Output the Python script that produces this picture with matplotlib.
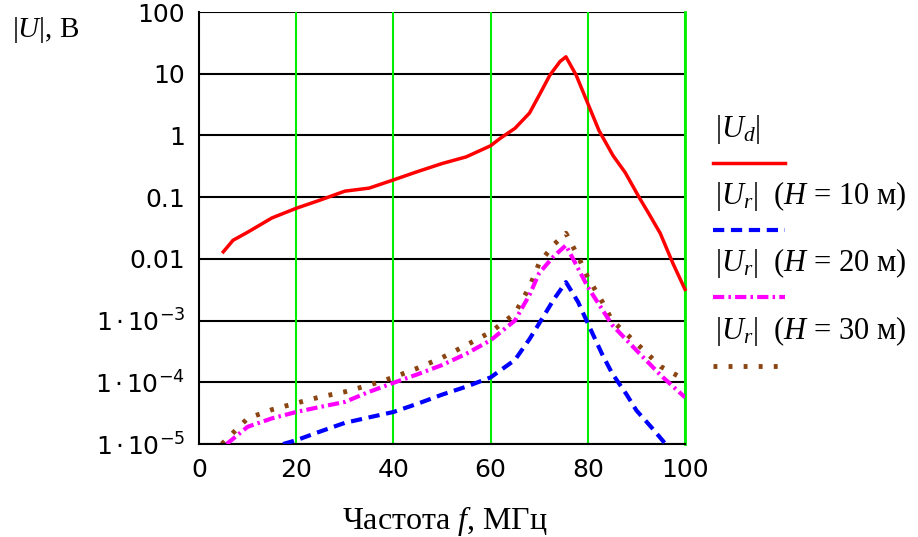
import numpy as np
import matplotlib
matplotlib.use('Agg')
from matplotlib import pyplot as plt
from matplotlib.lines import Line2D
from matplotlib.ticker import FixedLocator, FuncFormatter

plt.rcParams['mathtext.fontset'] = 'custom'
plt.rcParams['mathtext.rm'] = 'Liberation Serif'
plt.rcParams['mathtext.it'] = 'Liberation Serif:italic'
plt.rcParams['mathtext.sf'] = 'DejaVu Sans'

# |Ud|
x_d = [5, 7, 10, 15, 20, 25, 30, 35, 40, 45, 50, 55, 60, 62, 65, 68, 70.2, 72.2, 74.3, 75.5,
       77.6, 80, 82.3, 85.2, 87.7, 90.7, 92.5, 94.9, 97.5, 100]
u_d = [0.013, 0.02, 0.027, 0.046, 0.066, 0.09, 0.125, 0.14, 0.19, 0.26, 0.35, 0.45, 0.68,
       0.9, 1.3, 2.3, 4.8, 9.5, 15.8, 18.8, 9.5, 3.3, 1.2, 0.47, 0.25, 0.095, 0.055, 0.026,
       0.0085, 0.0032]

# |Ur| H = 10 m
x_10 = [17.3, 20, 25, 30, 35, 40, 45, 50, 55, 60, 65, 68, 70, 73, 75.5, 78, 80, 83, 85,
        88, 90, 93, 96]
u_10 = [1e-5, 1.15e-5, 1.6e-5, 2.2e-5, 2.7e-5, 3.3e-5, 4.5e-5, 6.3e-5, 8.5e-5, 1.2e-4,
        2.3e-4, 5e-4, 9e-4, 2.2e-3, 4.2e-3, 2e-3, 9e-4, 2.8e-4, 1.4e-4, 6.3e-5, 3.5e-5,
        1.9e-5, 1e-5]

# |Ur| H = 20 m
x_20 = [5.7, 10, 15, 20, 25, 30, 35, 40, 45, 50, 55, 60, 65, 68, 70, 73, 75.5, 78, 80,
        83, 85, 90, 95, 100]
u_20 = [1e-5, 1.9e-5, 2.6e-5, 3.3e-5, 4e-5, 4.8e-5, 7e-5, 9.8e-5, 1.35e-4, 1.9e-4,
        2.9e-4, 4.8e-4, 1e-3, 2.6e-3, 5.9e-3, 1.1e-2, 1.66e-2, 7e-3, 3.5e-3, 1.5e-3,
        8.5e-4, 3.3e-4, 1.3e-4, 5.7e-5]

# |Ur| H = 30 m
x_30 = [4.7, 10, 15, 20, 25, 30, 35, 40, 45, 50, 55, 60, 65, 68, 70, 73, 75.5, 78, 80,
        83, 85, 90, 95, 100]
u_30 = [1e-5, 2.6e-5, 3.6e-5, 4.6e-5, 5.8e-5, 7e-5, 9e-5, 1.2e-4, 1.7e-4, 2.5e-4,
        4e-4, 6.5e-4, 1.3e-3, 3.5e-3, 8.5e-3, 1.7e-2, 2.6e-2, 1.1e-2, 5e-3, 2e-3, 1e-3,
        4.3e-4, 1.8e-4, 1.1e-4]

x_ticks = [0, 20, 40, 60, 80, 100]
y_ticks = [1e-5, 1e-4, 1e-3, 1e-2, 0.1, 1, 10, 100]

legend_labels = [r'|$U_d$|',
                 r'|$U_r$|  ($H$ = 10 м)',
                 r'|$U_r$|  ($H$ = 20 м)',
                 r'|$U_r$|  ($H$ = 30 м)']

tick_font = ['DejaVu Sans Condensed', 'DejaVu Sans']
serif = ['Liberation Serif', 'DejaVu Serif']


def ylab(v, pos):
    e = int(round(np.log10(v)))
    if e >= -2:
        return '%g' % v
    return r'$\mathsf{1\cdot10^{%d}}\quad$' % e


fig = plt.figure(figsize=(9.18, 5.37), dpi=100)
ax = fig.add_axes([199/918, 1-444/537, 486/918, 432/537])
ax.set_yscale('log')
ax.set_xlim(0, 100)
ax.set_ylim(1e-5, 100)

for v in y_ticks:
    ax.axhline(v, color='black', lw=1.5, zorder=1)
for v in x_ticks[1:]:
    ax.axvline(v, color='#00ee00', lw=1.5, zorder=1)

ax.plot(x_d, u_d, color='#ff0000', lw=2.5, zorder=3, clip_on=False)
ax.plot(x_10, u_10, color='#0000ff', lw=3, ls=(0, (2.7, 1.6)), zorder=3)
ax.plot(x_20, u_20, color='#ff00ff', lw=3, ls=(0, (2.7, 1.0, 0.6, 1.0)), zorder=3)
ax.plot(x_30, u_30, color='#8b4513', lw=3.5, ls=(0, (0.8, 2.3)), zorder=2)

ax.xaxis.set_major_locator(FixedLocator(x_ticks))
ax.yaxis.set_major_locator(FixedLocator(y_ticks))
ax.yaxis.set_minor_locator(FixedLocator([]))
ax.yaxis.set_major_formatter(FuncFormatter(ylab))
ax.tick_params(length=0, labelsize=18, pad=10)
ax.tick_params(axis='x', pad=10)
for lbl in ax.get_xticklabels() + ax.get_yticklabels():
    lbl.set_family(tick_font)
for s in ['top', 'right']:
    ax.spines[s].set_visible(False)
ax.spines['left'].set_linewidth(1.5)
ax.spines['bottom'].set_linewidth(1.5)
ax.spines['right'].set_visible(True)
ax.spines['right'].set_color('#00ee00')
ax.spines['right'].set_linewidth(2)

fig.text(12/918, 1-30/537, r'|$U$|, В', fontsize=21, family=serif, va='center')
fig.text(445/918, 1-521/537, r'Частота $f$, МГц', fontsize=23, family=serif,
         ha='center', va='center')

styles = [dict(color='#ff0000', lw=2.5, ls='-'),
          dict(color='#0000ff', lw=3, ls=(0, (2.7, 1.6))),
          dict(color='#ff00ff', lw=3, ls=(0, (2.7, 1.0, 0.6, 1.0))),
          dict(color='#8b4513', lw=3.5, ls=(0, (0.8, 2.3)))]
text_y = [130, 196, 263, 331]
line_y = [163, 230, 297, 366]
for lab, st, ty, ly in zip(legend_labels, styles, text_y, line_y):
    fig.text(715/918, 1-ty/537, lab, fontsize=22, family=serif, va='center')
    fig.add_artist(Line2D([713/918, 785/918], [1-ly/537, 1-ly/537], **st))

plt.savefig('out.png', dpi=100)
